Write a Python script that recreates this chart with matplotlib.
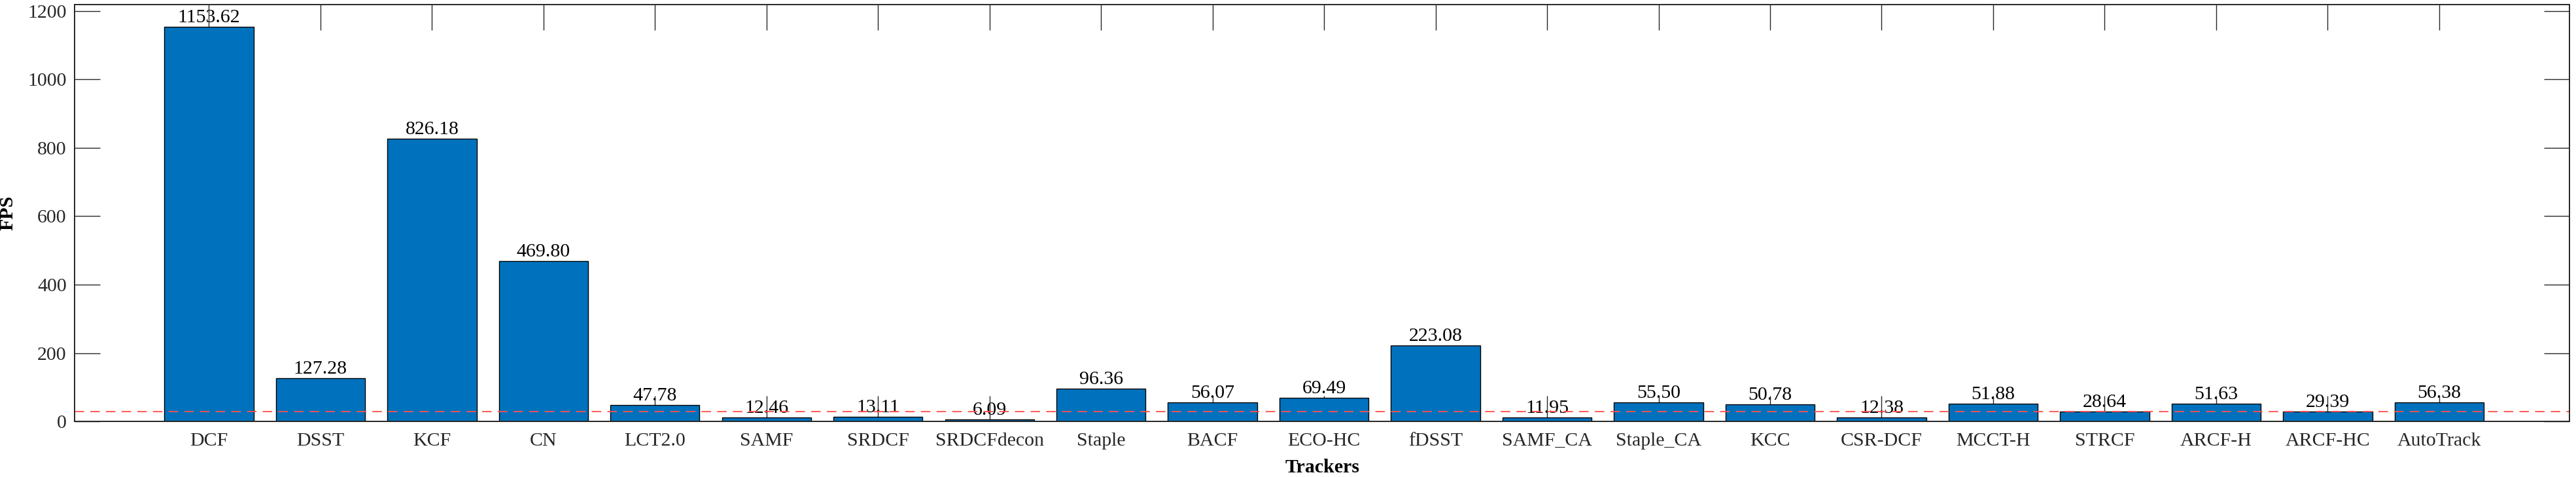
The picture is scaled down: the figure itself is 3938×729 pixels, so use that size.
import matplotlib
matplotlib.use("Agg")
import matplotlib.pyplot as plt
import numpy as np

# tracker speeds (FPS)
trackers = ["DCF", "DSST", "KCF", "CN", "LCT2.0", "SAMF", "SRDCF", "SRDCFdecon",
            "Staple", "BACF", "ECO-HC", "fDSST", "SAMF_CA", "Staple_CA", "KCC",
            "CSR-DCF", "MCCT-H", "STRCF", "ARCF-H", "ARCF-HC", "AutoTrack"]
fps = [1153.62, 127.28, 826.18, 469.80, 47.78, 12.46, 13.11, 6.09,
       96.36, 56.07, 69.49, 223.08, 11.95, 55.50, 50.78,
       12.38, 51.88, 28.64, 51.63, 29.39, 56.38]
realtime_fps = 30
y_ticks = [0, 200, 400, 600, 800, 1000, 1200]

plt.rcParams["font.family"] = ["Liberation Serif", "DejaVu Serif"]
plt.rcParams["font.size"] = 21

fig = plt.figure(figsize=(39.38, 7.29), dpi=100)
ax = fig.add_axes([0.02903, 0.1162, 0.99754 - 0.02903, 0.99 - 0.1162])

x = np.arange(1, len(trackers) + 1)
ax.bar(x, fps, width=0.8, color="#0072BD", edgecolor="black", linewidth=1.0, zorder=1)
for xi, v in zip(x, fps):
    # value above each bar; ticks are drawn over it like in the original
    ax.text(xi, v + 2, f"{v:.2f}", ha="center", va="bottom", fontsize=21.5,
            color="black", zorder=0.4)

ax.axhline(realtime_fps, color="#FF5050", linestyle=(0, (7, 4.5)), linewidth=1.5,
           alpha=0.9, zorder=2)

ax.set_xlim(-0.203, 22.17)
ax.set_ylim(0, 1218)
ax.set_xticks(x)
ax.set_xticklabels(trackers)
ax.set_yticks(y_ticks)
ax.set_axisbelow(True)
ax.tick_params(axis="both", direction="in", length=28, width=1.0, colors="#262626",
               labelcolor="#262626", top=True, right=True, labelsize=21.5)
ax.tick_params(axis="x", pad=12)
ax.tick_params(axis="y", pad=9)
for s in ax.spines.values():
    s.set_linewidth(1.4)
    s.set_color("#262626")

ax.set_ylabel("FPS", fontweight="bold", fontsize=21.5)
ax.yaxis.set_label_coords(-0.0232, 0.5)
ax.set_xlabel("Trackers", fontweight="bold", fontsize=21.5, labelpad=10)

fig.savefig("out.png", dpi=100)
